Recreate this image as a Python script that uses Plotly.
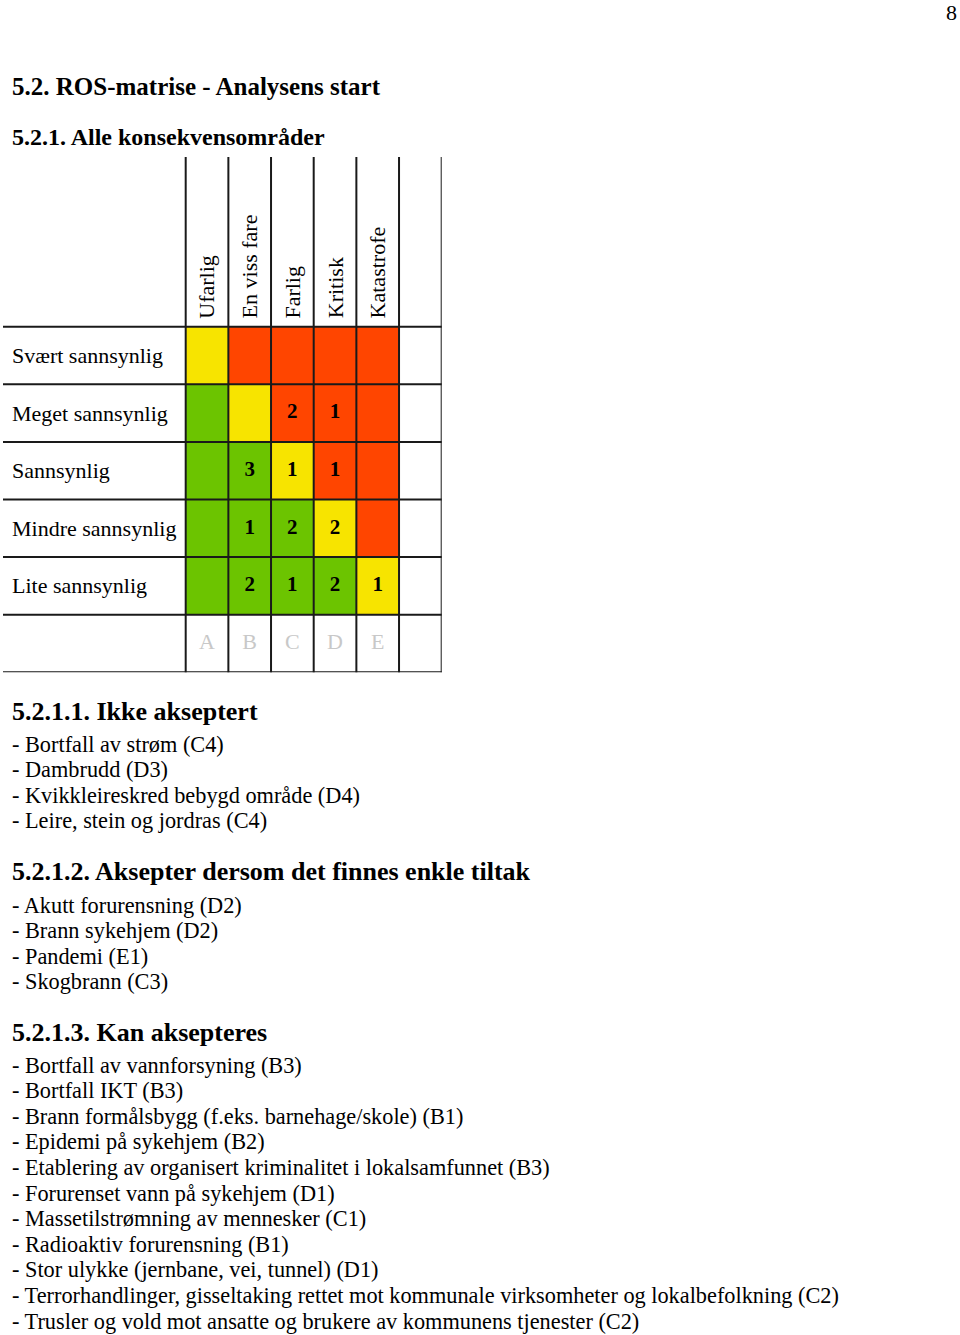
import plotly.graph_objects as go

# --- data -----------------------------------------------------------------
consequence = ["Ufarlig", "En viss fare", "Farlig", "Kritisk", "Katastrofe"]
column_codes = ["A", "B", "C", "D", "E"]
likelihood = [
    "Svært sannsynlig",
    "Meget sannsynlig",
    "Sannsynlig",
    "Mindre sannsynlig",
    "Lite sannsynlig",
]
# 0 = green, 1 = yellow, 2 = red (top row first)
risk_level = [
    [1, 2, 2, 2, 2],
    [0, 1, 2, 2, 2],
    [0, 0, 1, 2, 2],
    [0, 0, 0, 1, 2],
    [0, 0, 0, 0, 1],
]
# number of events per cell (top row first)
event_count = [
    [0, 0, 0, 0, 0],
    [0, 0, 2, 1, 0],
    [0, 3, 1, 1, 0],
    [0, 1, 2, 2, 0],
    [0, 2, 1, 2, 1],
]

title_main = "5.2. ROS-matrise - Analysens start"
title_sub = "5.2.1. Alle konsekvensområder"

head_1 = "5.2.1.1. Ikke akseptert"
items_1 = [
    "- Bortfall av strøm (C4)",
    "- Dambrudd (D3)",
    "- Kvikkleireskred bebygd område (D4)",
    "- Leire, stein og jordras (C4)",
]
head_2 = "5.2.1.2. Aksepter dersom det finnes enkle tiltak"
items_2 = [
    "- Akutt forurensning (D2)",
    "- Brann sykehjem (D2)",
    "- Pandemi (E1)",
    "- Skogbrann (C3)",
]
head_3 = "5.2.1.3. Kan aksepteres"
items_3 = [
    "- Bortfall av vannforsyning (B3)",
    "- Bortfall IKT (B3)",
    "- Brann formålsbygg (f.eks. barnehage/skole) (B1)",
    "- Epidemi på sykehjem (B2)",
    "- Etablering av organisert kriminalitet i lokalsamfunnet (B3)",
    "- Forurenset vann på sykehjem (D1)",
    "- Massetilstrømning av mennesker (C1)",
    "- Radioaktiv forurensning (B1)",
    "- Stor ulykke (jernbane, vei, tunnel) (D1)",
    "- Terrorhandlinger, gisseltaking rettet mot kommunale virksomheter og lokalbefolkning (C2)",
    "- Trusler og vold mot ansatte og brukere av kommunens tjenester (C2)",
]

GREEN = "#6cc400"
YELLOW = "#f7e400"
RED = "#ff4500"
FONT = "Liberation Serif"
W, H = 960, 1335

n_cols = len(consequence)
n_rows = len(likelihood)

fig = go.Figure()

fig.add_trace(
    go.Heatmap(
        z=risk_level,
        x=list(range(n_cols)),
        y=list(range(n_rows)),
        zmin=0,
        zmax=2,
        colorscale=[[0, GREEN], [0.5, YELLOW], [1, RED]],
        showscale=False,
        hoverinfo="skip",
    )
)

# counts inside the cells
cx, cy, ct = [], [], []
for r, row in enumerate(event_count):
    for c, v in enumerate(row):
        if v:
            cx.append(c)
            cy.append(r)
            ct.append(f"<b>{v}</b>")
fig.add_trace(
    go.Scatter(
        x=cx, y=cy, text=ct, mode="text",
        textfont=dict(family=FONT, size=21, color="black"),
        hoverinfo="skip",
    )
)

# column letters under the matrix
fig.add_trace(
    go.Scatter(
        x=list(range(n_cols)), y=[n_rows] * n_cols, text=column_codes,
        mode="text",
        textfont=dict(family=FONT, size=22, color="#c8c8c8"),
        hoverinfo="skip",
    )
)

# grid lines
for k in range(n_rows + 2):
    fig.add_shape(type="line", xref="x domain", x0=0, x1=1,
                  yref="y", y0=k - 0.5, y1=k - 0.5,
                  line=dict(color="#1a1a1a", width=2))
for k in range(n_cols + 2):
    fig.add_shape(type="line", xref="x", x0=k - 0.5, x1=k - 0.5,
                  yref="y domain", y0=0, y1=1,
                  line=dict(color="#1a1a1a", width=2))

# column headers (rotated)
for i, name in enumerate(consequence):
    fig.add_annotation(x=i, y=-0.5, xref="x", yref="y", text=name,
                       textangle=-90, showarrow=False, yanchor="bottom",
                       yshift=6, font=dict(family=FONT, size=22, color="black"))

# row labels
for i, name in enumerate(likelihood):
    fig.add_annotation(x=10 / W, y=i, xref="paper", yref="y", text=name,
                       xanchor="left", showarrow=False,
                       font=dict(family=FONT, size=22, color="black"))


def put(text, ypx, size=22, bold=False, x=10, anchor="left"):
    fig.add_annotation(
        x=x / W, y=1 - ypx / H, xref="paper", yref="paper",
        text=f"<b>{text}</b>" if bold else text,
        xanchor=anchor, yanchor="middle", showarrow=False,
        font=dict(family=FONT, size=size, color="black"),
    )


put("8", 12, x=959, anchor="right")
put(title_main, 87, size=25, bold=True)
put(title_sub, 137, size=24, bold=True)

put(head_1, 711, size=26, bold=True)
for j, t in enumerate(items_1):
    put(t, 744 + j * 25.6, size=22.3)
put(head_2, 872, size=26, bold=True)
for j, t in enumerate(items_2):
    put(t, 905 + j * 25.5, size=22.3)
put(head_3, 1032, size=26, bold=True)
for j, t in enumerate(items_3):
    put(t, 1065 + j * 25.6, size=22.3)

# place the matrix axes in page pixels
x_left, x_right = 3, 441.7
y_top, y_bottom = 157, 672.3
cell_w = (x_right - 185.7) / (n_cols + 1)
fig.update_xaxes(
    domain=[x_left / W, x_right / W],
    range=[-0.5 - (185.7 - x_left) / cell_w, n_cols + 0.5],
    showgrid=False, zeroline=False, showticklabels=False, fixedrange=True,
)
cell_h = (y_bottom - 326.7) / (n_rows + 1)
fig.update_yaxes(
    domain=[1 - y_bottom / H, 1 - y_top / H],
    range=[n_rows + 0.5, -0.5 - (326.7 - y_top) / cell_h],
    showgrid=False, zeroline=False, showticklabels=False, fixedrange=True,
)
fig.update_layout(
    width=W, height=H,
    margin=dict(l=0, r=0, t=0, b=0),
    paper_bgcolor="white", plot_bgcolor="white",
    showlegend=False,
)

fig.write_html("out.html", config={"displayModeBar": False},
               post_script="document.body.style.margin='0';")
